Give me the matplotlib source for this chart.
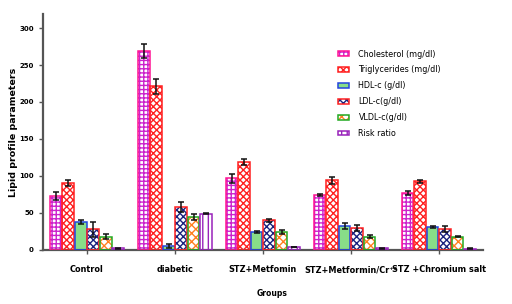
import numpy as np
import matplotlib.pyplot as plt
from matplotlib.patches import Patch

# --- data -------------------------------------------------------------------
groups = ["Control", "diabetic", "STZ+Metfomin",
          "STZ+Metformin/Cr\u207a\u00b3", "STZ +Chromium salt"]
series = ["Cholesterol (mg/dl)", "Triglycerides (mg/dl)", "HDL-c (g/dl)",
          "LDL-c(g/dl)", "VLDL-c(g/dl)", "Risk ratio"]

cholesterol = [73, 269, 97, 74, 77]
cholesterol_err = [5, 10, 6, 1, 3]
triglycerides = [90, 221, 119, 94, 93]
triglycerides_err = [4, 10, 4, 5, 2]
hdl = [38, 5, 24, 32, 31]
hdl_err = [3, 3, 1, 4, 1]
ldl = [28, 58, 40, 29, 28]
ldl_err = [10, 7, 2, 4, 4]
vldl = [18, 44, 24, 18, 18]
vldl_err = [3, 4, 3, 2, 1]
risk = [2, 49, 4, 2, 1.5]
risk_err = [0.5, 1, 0.5, 0.5, 0.5]

values = [cholesterol, triglycerides, hdl, ldl, vldl, risk]
errors = [cholesterol_err, triglycerides_err, hdl_err, ldl_err, vldl_err, risk_err]

# (face, hatch colour, hatch, outline colour)
styles = [
    ("white", "#CC22CC", "++++", "#FF1493"),
    ("white", "#FF2020", "xxxxx", "#FF2020"),
    ("#88DD88", "#88DD88", "", "#2244DD"),
    ("white", "#1A237E", "xxxxx", "#FF2020"),
    ("white", "#FF8020", "xxxx", "#22AA22"),
    ("white", "#9922BB", "|||", "#9922BB"),
]

fig = plt.figure(figsize=(5.12, 3.04), dpi=100)
ax = fig.add_axes([0.084, 0.178, 0.859, 0.776])

x = np.arange(len(groups))
w = 0.142
handles = []
for i, (vals, errs, (fc, hc, hatch, ec)) in enumerate(zip(values, errors, styles)):
    pos = x + (i - 2.5) * w
    ax.bar(pos, vals, w * 0.93, color=fc, edgecolor=hc, hatch=hatch, linewidth=0, zorder=2)
    ax.bar(pos, vals, w * 0.93, fill=False, edgecolor=ec, linewidth=1.1, zorder=3)
    ax.errorbar(pos, vals, yerr=errs, fmt="none", ecolor="#111111",
                elinewidth=1.1, capsize=2.2, capthick=1.1, zorder=4)
    h1 = Patch(facecolor=fc, edgecolor=hc, hatch=hatch, linewidth=0)
    h2 = Patch(fill=False, edgecolor=ec, linewidth=1.1)
    handles.append((h1, h2))

ax.legend(handles, series, loc="upper left", bbox_to_anchor=(0.655, 0.88),
          frameon=False, fontsize=5.8, handlelength=1.3, handleheight=0.55,
          labelspacing=0.85, handletextpad=1.2)

ax.set_xlim(-0.5, 4.5)
ax.set_ylim(0, 319)
ax.set_yticks(np.arange(0, 301, 50))
ax.set_xticks(x)
ax.set_xticklabels(groups, fontsize=5.9, fontweight="bold")
ax.tick_params(axis="x", length=3, width=1, pad=8, color="#555555")
ax.tick_params(axis="y", length=3, width=1, labelsize=5, color="#555555")
for t in ax.get_yticklabels():
    t.set_fontweight("bold")
ax.set_ylabel("Lipid profile parameters", fontsize=6.8, fontweight="bold")
ax.yaxis.set_label_coords(-0.057, 0.5)
ax.set_xlabel("Groups", fontsize=5.5, fontweight="bold")
ax.xaxis.set_label_coords(0.52, -0.165)
for s in ["top", "right"]:
    ax.spines[s].set_visible(False)
for s in ["left", "bottom"]:
    ax.spines[s].set_color("#555555")
    ax.spines[s].set_linewidth(1.6)

fig.savefig("out.png", dpi=100)
